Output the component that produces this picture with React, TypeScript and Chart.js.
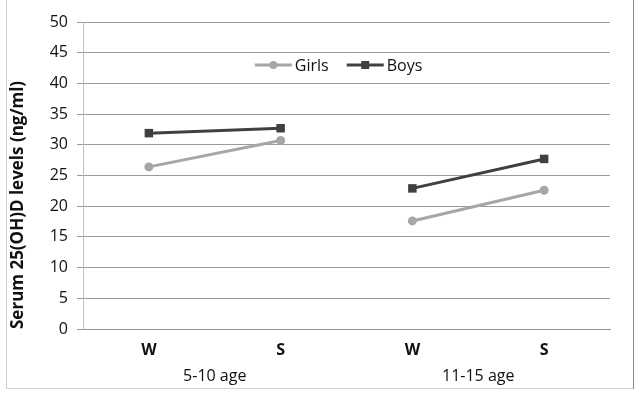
import React, { useEffect, useRef } from "react";
import { Chart, registerables } from "chart.js";

Chart.register(...registerables);

const CATEGORIES = ["W", "S", "W", "S"];
const GROUPS = ["5-10 age", "11-15 age"];
const GIRLS = [26.4, 30.7, 17.6, 22.6];
const BOYS = [31.9, 32.7, 22.9, 27.7];
const SERIES_NAMES = ["Girls", "Boys"];
const Y_TITLE = "Serum 25(OH)D levels (ng/ml)";

const FONT = "'Open Sans', Lato, sans-serif";
const GIRLS_COLOR = "#a6a6a6";
const BOYS_COLOR = "#404040";

const legendPlugin = {
  id: "inlineLegend",
  afterDraw(chart: any) {
    const ctx = chart.ctx;
    const ca = chart.chartArea;
    const y = ca.top + 43;
    ctx.save();
    ctx.font = `16px ${FONT}`;
    ctx.textBaseline = "middle";
    const lineLen = 37;
    const gap = 3;
    const itemGap = 18;
    const items = chart.data.datasets.map((ds: any) => ({
      label: ds.label,
      color: ds.borderColor,
      style: ds.pointStyle,
      w: lineLen + gap + ctx.measureText(ds.label).width,
    }));
    const total = items.reduce((s: number, it: any) => s + it.w, 0) + itemGap * (items.length - 1);
    let x = ca.left + (ca.right - ca.left) * 0.485 - total / 2;
    for (const it of items) {
      ctx.strokeStyle = it.color;
      ctx.lineWidth = 3;
      ctx.beginPath();
      ctx.moveTo(x, y);
      ctx.lineTo(x + lineLen, y);
      ctx.stroke();
      ctx.fillStyle = it.color;
      const cx = x + lineLen / 2;
      if (it.style === "rect") {
        ctx.fillRect(cx - 4, y - 4, 8, 8);
      } else {
        ctx.beginPath();
        ctx.arc(cx, y, 4, 0, Math.PI * 2);
        ctx.fill();
      }
      ctx.fillStyle = "#111";
      ctx.fillText(it.label, x + lineLen + gap, y + 1);
      x += it.w + itemGap;
    }
    ctx.restore();
  },
};

const borderPlugin = {
  id: "outerBorder",
  beforeDraw(chart: any) {
    const ctx = chart.ctx;
    ctx.save();
    ctx.fillStyle = "#ffffff";
    ctx.fillRect(0, 0, chart.width, chart.height);
    ctx.lineWidth = 1;
    ctx.strokeStyle = "#d0d0d0";
    ctx.beginPath();
    ctx.moveTo(6.5, 0);
    ctx.lineTo(6.5, 388.5);
    ctx.lineTo(633, 388.5);
    ctx.stroke();
    ctx.strokeStyle = "#8a8a8a";
    ctx.beginPath();
    ctx.moveTo(633.5, 0);
    ctx.lineTo(633.5, 389);
    ctx.stroke();
    ctx.restore();
  },
};

export default function App() {
  const ref = useRef<HTMLCanvasElement | null>(null);
  useEffect(() => {
    if (!ref.current) return;
    const gapSeg = (color: string) => ({
      borderColor: (c: any) => (c.p0DataIndex === 1 ? "rgba(0,0,0,0)" : color),
    });
    const chart = new Chart(ref.current, {
      type: "line",
      data: {
        labels: CATEGORIES,
        datasets: [
          {
            label: SERIES_NAMES[0],
            data: GIRLS,
            borderColor: GIRLS_COLOR,
            backgroundColor: GIRLS_COLOR,
            borderWidth: 3,
            pointStyle: "circle",
            pointRadius: 4.5,
            pointBorderWidth: 0,
            segment: gapSeg(GIRLS_COLOR),
          },
          {
            label: SERIES_NAMES[1],
            data: BOYS,
            borderColor: BOYS_COLOR,
            backgroundColor: BOYS_COLOR,
            borderWidth: 3,
            pointStyle: "rect",
            pointRadius: 6,
            pointBorderWidth: 0,
            segment: gapSeg(BOYS_COLOR),
          },
        ],
      },
      options: {
        responsive: false,
        animation: false,
        devicePixelRatio: 1,
        layout: { padding: { left: 0, top: 22, right: 28, bottom: 0 } },
        plugins: { legend: { display: false }, tooltip: { enabled: false } },
        scales: {
          x: {
            type: "category",
            position: "bottom",
            weight: 0,
            offset: true,
            grid: { display: false, drawTicks: false },
            border: { display: true, color: "#909090", width: 1 },
            ticks: { font: { family: FONT, size: 16, weight: "bold" }, color: "#111", padding: 12 },
            afterFit: (s: any) => { s.height = 36; },
          },
          x2: {
            type: "category",
            labels: GROUPS,
            position: "bottom",
            weight: 1,
            offset: true,
            grid: { display: false, drawTicks: false },
            border: { display: false },
            ticks: { font: { family: FONT, size: 16 }, color: "#111", padding: 2 },
            afterFit: (s: any) => { s.height = 28; },
          },
          y: {
            min: 0,
            max: 50,
            ticks: { stepSize: 5, font: { family: FONT, size: 16 }, color: "#111", padding: 9 },
            grid: { color: "#9a9a9a", lineWidth: 1, tickLength: 6, drawTicks: true },
            border: { display: true, color: "#c0c0c0" },
            title: {
              display: true,
              text: Y_TITLE,
              align: "start",
              font: { family: FONT, size: 17, weight: "bold" },
              color: "#111",
              padding: { top: 8, bottom: 0 },
            },
            afterFit: (s: any) => { s.width = 83; },
          },
        },
      },
      plugins: [borderPlugin, legendPlugin],
    });
    return () => chart.destroy();
  }, []);
  return (
    <div style={{ position: "absolute", left: 0, top: 0, width: 638, height: 393 }}>
      <canvas ref={ref} width={638} height={393} style={{ display: "block" }} />
    </div>
  );
}
